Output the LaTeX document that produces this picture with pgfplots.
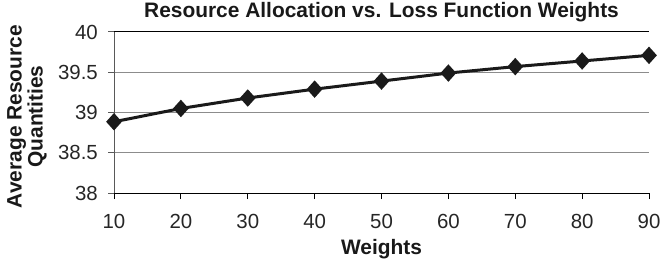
\documentclass[border=0pt]{standalone}
\usepackage{fontspec}
\setmainfont{Liberation Sans}
\usepackage{pgfplots}
\pgfplotsset{compat=1.18}
\definecolor{gridgray}{HTML}{8C8C8C}
\definecolor{linecol}{HTML}{1A1A1A}
\begin{document}
\begin{tikzpicture}[x=1bp,y=1bp]
\path[use as bounding box] (0,0) rectangle (662,263);
\begin{axis}[
  at={(114bp,70bp)}, anchor=south west,
  scale only axis, width=535bp, height=161bp,
  xmin=10, xmax=90, ymin=38, ymax=40,
  xtick={10,20,...,90},
  ytick={38,38.5,39,39.5,40},
  yticklabels={38,38.5,39,39.5,40},
  axis x line*=bottom, axis y line*=left,
  x axis line style={black, line width=1bp, -},
  y axis line style={black!65, line width=1bp, -},
  tick align=outside, major tick length=6bp,
  xtick style={black, line width=1bp},
  ytick style={black!65, line width=1bp},
  ymajorgrids, grid style={gridgray, line width=1bp},
  extra y ticks={40}, extra y tick labels={},
  extra y tick style={grid style={black, line width=1bp}, major tick length=0bp},
  /pgf/number format/assume math mode=true,
  tick label style={font=\fontsize{20.5}{22}\selectfont, text=black!85},
  xticklabel style={anchor=base, inner sep=0pt, yshift=-29bp},
  yticklabel style={anchor=east, inner sep=0pt, xshift=-10bp},
  title={Resource Allocation vs. Loss Function Weights},
  title style={at={(rel axis cs:0.5,1.0559)}, anchor=base, inner sep=0pt, font=\bfseries\fontsize{21}{22}\selectfont, text=black!90},
  xlabel={Weights},
  xlabel style={at={(rel axis cs:0.5,-0.3789)}, anchor=base, inner sep=0pt, font=\bfseries\fontsize{21}{22}\selectfont, text=black!90},
  ylabel={Average Resource\\Quantities},
  ylabel style={at={(rel axis cs:-0.1626,0.475)}, anchor=center, inner sep=0pt, align=center, font=\bfseries\fontsize{21}{21}\selectfont, text=black!90},
]
\addplot[linecol, line width=3bp, mark=diamond*, mark size=6.5bp, mark options={solid, fill=linecol, xscale=1.2}]
coordinates {
(10,38.885) (20,39.05) (30,39.18) (40,39.29) (50,39.39) (60,39.49) (70,39.57) (80,39.64) (90,39.71)
};
\end{axis}
\end{tikzpicture}
\end{document}
